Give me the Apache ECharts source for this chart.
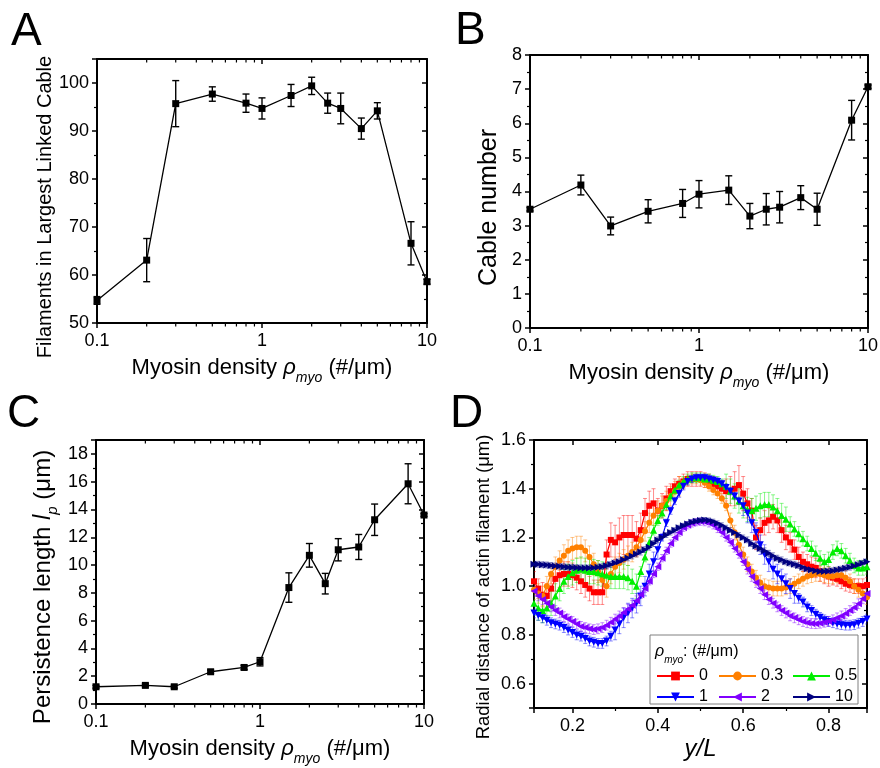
<!DOCTYPE html>
<html><head><meta charset="utf-8">
<script src="https://cdn.jsdelivr.net/npm/echarts@6/dist/echarts.min.js"></script>
<style>html,body{margin:0;padding:0;background:#fff}#c{width:880px;height:768px}</style>
</head><body><div id="c"></div>
<script>
const FONT = '"Liberation Sans", Arial, Helvetica, sans-serif';

// ---------- Panels A-C data ----------
const rhoMyo = [0.1, 0.2, 0.3, 0.5, 0.8, 1, 1.5, 2, 2.5, 3, 4, 5, 8, 10];
const filamentsLargest    = [54.7, 63.1, 95.7, 97.7, 95.8, 94.7, 97.4, 99.4, 95.8, 94.7, 90.5, 94.2, 66.6, 58.6];
const filamentsLargestErr = [0.8, 4.5, 4.8, 1.5, 1.9, 2.2, 2.3, 1.8, 2.1, 3.2, 2.2, 1.7, 4.5, 0.5];
const cableNumber    = [3.48, 4.19, 2.99, 3.42, 3.65, 3.92, 4.04, 3.28, 3.48, 3.54, 3.82, 3.48, 6.09, 7.07];
const cableNumberErr = [0.05, 0.29, 0.26, 0.34, 0.41, 0.40, 0.42, 0.37, 0.46, 0.46, 0.35, 0.47, 0.58, 0.05];
const persistenceLength    = [1.24, 1.34, 1.24, 2.32, 2.63, 3.04, 8.38, 10.7, 8.66, 11.1, 11.3, 13.26, 15.85, 13.6];
const persistenceLengthErr = [0.1, 0.1, 0.1, 0.12, 0.15, 0.3, 1.06, 0.85, 0.74, 0.8, 0.9, 1.13, 1.44, 0.1];
const logMinorTicks = [0.2, 0.3, 0.4, 0.5, 0.6, 0.7, 0.8, 0.9, 2, 3, 4, 5, 6, 7, 8, 9];

// ---------- Panel D data ----------
const yOverL = [
 0.11,0.12,0.13,0.14,0.15,0.16,0.17,0.18,0.19,0.20,
 0.21,0.22,0.23,0.24,0.25,0.26,0.27,0.28,0.29,0.30,
 0.31,0.32,0.33,0.34,0.35,0.36,0.37,0.38,0.39,0.40,
 0.41,0.42,0.43,0.44,0.45,0.46,0.47,0.48,0.49,0.50,
 0.51,0.52,0.53,0.54,0.55,0.56,0.57,0.58,0.59,0.60,
 0.61,0.62,0.63,0.64,0.65,0.66,0.67,0.68,0.69,0.70,
 0.71,0.72,0.73,0.74,0.75,0.76,0.77,0.78,0.79,0.80,
 0.81,0.82,0.83,0.84,0.85,0.86,0.87,0.88,0.89];
const radial_rho0 = [
 1.02,0.99,0.965,0.96,0.99,1.03,1.045,1.05,1.05,1.045,
 1.035,1.02,1.005,0.99,0.975,0.975,0.975,1.13,1.19,1.18,
 1.2,1.21,1.21,1.21,1.195,1.23,1.3,1.33,1.34,1.31,
 1.33,1.36,1.39,1.41,1.42,1.43,1.44,1.44,1.44,1.44,
 1.435,1.43,1.42,1.41,1.4,1.39,1.39,1.4,1.415,1.38,
 1.34,1.31,1.2,1.23,1.26,1.27,1.285,1.27,1.23,1.2,
 1.18,1.15,1.12,1.1,1.09,1.08,1.075,1.06,1.05,1.04,
 1.035,1.03,1.02,1.01,1.005,1.0,1.0,1.0,1.005];
const radial_rho0_err = [
 0.04,0.04,0.05,0.05,0.05,0.05,0.05,0.05,0.05,0.05,
 0.05,0.05,0.05,0.05,0.05,0.05,0.05,0.06,0.07,0.07,
 0.08,0.08,0.08,0.08,0.07,0.07,0.06,0.06,0.06,0.05,
 0.05,0.05,0.03,0.03,0.03,0.03,0.03,0.03,0.03,0.03,
 0.03,0.03,0.03,0.03,0.03,0.05,0.06,0.07,0.08,0.07,
 0.06,0.05,0.05,0.05,0.05,0.05,0.05,0.05,0.05,0.05,
 0.04,0.04,0.04,0.04,0.04,0.04,0.04,0.04,0.04,0.04,
 0.03,0.03,0.03,0.03,0.03,0.03,0.03,0.03,0.03];
const radial_rho03 = [
 0.985,0.97,0.96,1.0,1.05,1.08,1.105,1.125,1.145,1.155,
 1.16,1.16,1.145,1.12,1.09,1.06,1.025,1.0,1.05,1.08,
 1.095,1.11,1.125,1.14,1.16,1.19,1.225,1.26,1.29,1.31,
 1.33,1.35,1.37,1.39,1.41,1.425,1.435,1.44,1.44,1.435,
 1.425,1.41,1.395,1.38,1.36,1.33,1.27,1.22,1.17,1.13,
 1.09,1.06,1.035,1.015,1.0,0.995,0.99,0.99,0.99,0.995,
 1.0,1.01,1.02,1.03,1.04,1.045,1.05,1.05,1.045,1.04,
 1.04,1.045,1.045,1.035,1.02,1.0,0.985,0.97,0.955];
const radial_rho03_err = [
 0.04,0.04,0.04,0.04,0.04,0.04,0.04,0.045,0.045,0.045,
 0.045,0.045,0.045,0.045,0.045,0.045,0.045,0.045,0.04,0.04,
 0.04,0.04,0.04,0.04,0.04,0.04,0.04,0.04,0.04,0.04,
 0.04,0.04,0.04,0.04,0.04,0.02,0.02,0.02,0.02,0.02,
 0.02,0.02,0.02,0.02,0.02,0.02,0.03,0.03,0.03,0.03,
 0.03,0.03,0.03,0.03,0.03,0.03,0.03,0.03,0.03,0.03,
 0.03,0.03,0.03,0.03,0.03,0.03,0.03,0.03,0.03,0.03,
 0.03,0.03,0.03,0.03,0.03,0.03,0.03,0.03,0.03];
const radial_rho05 = [
 0.93,0.91,0.9,0.91,0.93,0.96,0.99,1.02,1.04,1.055,
 1.065,1.07,1.065,1.06,1.06,1.055,1.05,1.045,1.04,1.04,
 1.04,1.04,1.035,1.02,1.0,1.06,1.12,1.18,1.23,1.27,
 1.3,1.335,1.37,1.395,1.415,1.43,1.44,1.445,1.445,1.445,
 1.44,1.44,1.435,1.43,1.42,1.41,1.39,1.37,1.35,1.33,
 1.315,1.31,1.32,1.33,1.335,1.335,1.325,1.31,1.29,1.275,
 1.255,1.235,1.215,1.195,1.175,1.155,1.135,1.115,1.1,1.11,
 1.14,1.155,1.145,1.125,1.105,1.085,1.075,1.075,1.08];
const radial_rho05_err = [
 0.05,0.05,0.05,0.05,0.05,0.05,0.05,0.05,0.05,0.05,
 0.05,0.05,0.05,0.05,0.05,0.05,0.05,0.05,0.05,0.05,
 0.05,0.05,0.05,0.05,0.05,0.02,0.02,0.02,0.02,0.02,
 0.02,0.02,0.02,0.02,0.02,0.02,0.02,0.02,0.02,0.02,
 0.02,0.02,0.02,0.02,0.02,0.05,0.05,0.05,0.05,0.05,
 0.05,0.05,0.05,0.05,0.05,0.05,0.05,0.05,0.05,0.05,
 0.03,0.03,0.03,0.03,0.03,0.03,0.03,0.03,0.03,0.03,
 0.03,0.03,0.03,0.03,0.03,0.03,0.03,0.03,0.03];
const radial_rho1 = [
 0.89,0.88,0.87,0.86,0.85,0.845,0.84,0.83,0.82,0.81,
 0.8,0.795,0.785,0.775,0.77,0.765,0.765,0.775,0.795,0.82,
 0.845,0.87,0.89,0.91,0.93,0.96,1.0,1.05,1.1,1.15,
 1.2,1.26,1.31,1.35,1.38,1.41,1.43,1.44,1.445,1.445,
 1.445,1.44,1.435,1.43,1.42,1.405,1.39,1.37,1.35,1.33,
 1.3,1.26,1.22,1.17,1.13,1.1,1.07,1.05,1.03,1.01,
 0.99,0.97,0.95,0.935,0.915,0.9,0.885,0.872,0.862,0.855,
 0.85,0.845,0.842,0.84,0.84,0.842,0.848,0.855,0.865];
const radial_rho1_err = [
 0.02,0.02,0.02,0.02,0.02,0.02,0.02,0.02,0.02,0.02,
 0.02,0.02,0.02,0.02,0.02,0.02,0.02,0.02,0.02,0.04,
 0.04,0.04,0.04,0.04,0.04,0.04,0.04,0.04,0.04,0.04,
 0.015,0.015,0.015,0.015,0.015,0.015,0.015,0.015,0.015,0.015,
 0.015,0.015,0.015,0.015,0.015,0.015,0.015,0.015,0.015,0.04,
 0.04,0.04,0.04,0.04,0.04,0.04,0.04,0.04,0.04,0.04,
 0.04,0.04,0.02,0.02,0.02,0.02,0.02,0.02,0.02,0.02,
 0.02,0.02,0.02,0.02,0.02,0.02,0.02,0.02,0.02];
const radial_rho2 = [
 0.98,0.96,0.945,0.93,0.915,0.9,0.89,0.875,0.865,0.855,
 0.845,0.835,0.83,0.825,0.822,0.825,0.83,0.84,0.852,0.865,
 0.878,0.892,0.906,0.922,0.94,0.965,0.99,1.02,1.05,1.08,
 1.115,1.145,1.175,1.2,1.22,1.24,1.25,1.258,1.263,1.265,
 1.263,1.258,1.25,1.235,1.22,1.2,1.18,1.155,1.13,1.1,
 1.07,1.04,1.015,0.99,0.965,0.945,0.93,0.915,0.9,0.89,
 0.878,0.87,0.862,0.855,0.85,0.847,0.846,0.848,0.852,0.856,
 0.862,0.87,0.878,0.888,0.9,0.912,0.928,0.948,0.97];
const radial_rho2_err = [
 0.02,0.02,0.02,0.02,0.02,0.02,0.02,0.02,0.02,0.02,
 0.02,0.02,0.02,0.02,0.02,0.02,0.02,0.02,0.02,0.02,
 0.02,0.02,0.02,0.02,0.02,0.015,0.015,0.015,0.015,0.015,
 0.015,0.015,0.015,0.015,0.015,0.015,0.015,0.015,0.015,0.015,
 0.015,0.015,0.015,0.015,0.015,0.015,0.015,0.015,0.015,0.015,
 0.02,0.02,0.02,0.02,0.02,0.02,0.02,0.02,0.02,0.02,
 0.02,0.02,0.02,0.02,0.02,0.02,0.02,0.02,0.02,0.02,
 0.02,0.02,0.02,0.02,0.02,0.02,0.02,0.02,0.02];
const radial_rho10 = [
 1.09,1.09,1.088,1.087,1.085,1.083,1.082,1.08,1.078,1.077,
 1.076,1.075,1.075,1.075,1.076,1.078,1.08,1.084,1.089,1.095,
 1.1,1.108,1.116,1.124,1.132,1.14,1.15,1.16,1.175,1.19,
 1.2,1.21,1.22,1.23,1.24,1.248,1.255,1.262,1.266,1.27,
 1.272,1.27,1.265,1.258,1.25,1.24,1.23,1.22,1.21,1.2,
 1.19,1.175,1.165,1.155,1.145,1.135,1.125,1.115,1.108,1.1,
 1.095,1.09,1.085,1.078,1.072,1.067,1.063,1.06,1.06,1.061,
 1.063,1.066,1.07,1.074,1.078,1.083,1.088,1.094,1.1];
const radial_rho10_err = [
 0.012,0.012,0.012,0.012,0.012,0.012,0.012,0.012,0.012,0.012,
 0.012,0.012,0.012,0.012,0.012,0.012,0.012,0.012,0.012,0.012,
 0.012,0.012,0.012,0.012,0.012,0.012,0.012,0.012,0.012,0.012,
 0.01,0.01,0.01,0.01,0.01,0.01,0.01,0.01,0.01,0.01,
 0.01,0.01,0.01,0.01,0.01,0.01,0.01,0.01,0.01,0.01,
 0.012,0.012,0.012,0.012,0.012,0.012,0.012,0.012,0.012,0.012,
 0.012,0.012,0.012,0.012,0.012,0.012,0.012,0.012,0.012,0.012,
 0.012,0.012,0.012,0.012,0.012,0.012,0.012,0.012,0.012];
const rhoLegend = ['0', '0.3', '0.5', '1', '2', '10'];

// ---------- styling ----------
const dSeriesDefs = [
  {name: rhoLegend[0], y: radial_rho0,  e: radial_rho0_err,  color: '#ff0000', symbol: 'rect',     size: 6, rot: 0},
  {name: rhoLegend[1], y: radial_rho03, e: radial_rho03_err, color: '#ff8000', symbol: 'circle',   size: 6, rot: 0},
  {name: rhoLegend[2], y: radial_rho05, e: radial_rho05_err, color: '#00ee00', symbol: 'triangle', size: 7, rot: 0},
  {name: rhoLegend[3], y: radial_rho1,  e: radial_rho1_err,  color: '#0000ff', symbol: 'triangle', size: 7, rot: 180},
  {name: rhoLegend[4], y: radial_rho2,  e: radial_rho2_err,  color: '#8000ff', symbol: 'triangle', size: 7, rot: 90},
  {name: rhoLegend[5], y: radial_rho10, e: radial_rho10_err, color: '#000080', symbol: 'triangle', size: 7, rot: -90}
];

const AX_LINE = {show: true, onZero: false, lineStyle: {color: '#000', width: 2}};
const TICK_STYLE = {color: '#000', width: 1.5};
const LABEL = {color: '#000', fontSize: 18, fontFamily: FONT};

function richTitle(size, lh, pad) {
  const o = {
    color: '#000', fontFamily: FONT, fontSize: size, lineHeight: lh,
    rich: {
      t: {fontSize: size, fontFamily: FONT, color: '#000', lineHeight: lh, verticalAlign: 'middle'},
      r: {fontSize: size, fontFamily: FONT, color: '#000', fontStyle: 'italic', lineHeight: lh, verticalAlign: 'middle'},
      s: {fontSize: Math.round(size * 0.64), fontFamily: FONT, color: '#000', fontStyle: 'italic', lineHeight: lh, verticalAlign: 'bottom'}
    }
  };
  if (pad) o.padding = pad;
  return o;
}
const MYO_TITLE = '{t|Myosin density }{r|ρ}{s|myo}{t| (#/μm)}';

function xPair(g, type, min, max, nameGap, extraLabel, name, nameStyle) {
  const base = {type: type, gridIndex: g, min: min, max: max, splitLine: {show: false}, axisLine: AX_LINE};
  if (type === 'log') base.logBase = 10;
  const minor = type === 'log' ? {show: false} : {show: true, splitNumber: 2, length: 3, lineStyle: {color: '#000', width: 1.2}};
  const bottom = Object.assign({}, base, {
    position: 'bottom',
    axisTick: {show: true, inside: false, length: 5, lineStyle: TICK_STYLE},
    minorTick: minor,
    axisLabel: Object.assign({show: true, margin: 9}, LABEL, extraLabel || {}),
    name: name, nameLocation: 'middle', nameGap: nameGap, nameTextStyle: nameStyle
  });
  const top = Object.assign({}, base, {
    position: 'top',
    axisTick: {show: true, inside: true, length: 5, lineStyle: TICK_STYLE},
    minorTick: minor,
    axisLabel: {show: false}
  });
  return [bottom, top];
}
function yPair(g, min, max, interval, nameGap, extraLabel, name, nameStyle) {
  const base = {type: 'value', gridIndex: g, min: min, max: max, splitLine: {show: false}, axisLine: AX_LINE};
  if (interval != null) base.interval = interval;
  const minor = {show: true, splitNumber: 2, length: 3, lineStyle: {color: '#000', width: 1.2}};
  const left = Object.assign({}, base, {
    position: 'left',
    axisTick: {show: true, inside: false, length: 5, lineStyle: TICK_STYLE},
    minorTick: minor,
    axisLabel: Object.assign({show: true, margin: 8}, LABEL, extraLabel || {}),
    name: name, nameLocation: 'middle', nameGap: nameGap, nameTextStyle: nameStyle
  });
  const right = Object.assign({}, base, {
    position: 'right',
    axisTick: {show: true, inside: true, length: 5, lineStyle: TICK_STYLE},
    minorTick: minor,
    axisLabel: {show: false}
  });
  return [left, right];
}

function errBar(cap, color, width, opacity) {
  return function (params, api) {
    const x = api.value(0);
    const lo = api.coord([x, api.value(1)]);
    const hi = api.coord([x, api.value(2)]);
    const st = {stroke: color, lineWidth: width, opacity: opacity};
    return {type: 'group', children: [
      {type: 'line', shape: {x1: lo[0], y1: lo[1], x2: hi[0], y2: hi[1]}, style: st},
      {type: 'line', shape: {x1: lo[0] - cap, y1: lo[1], x2: lo[0] + cap, y2: lo[1]}, style: st},
      {type: 'line', shape: {x1: hi[0] - cap, y1: hi[1], x2: hi[0] + cap, y2: hi[1]}, style: st}
    ]};
  };
}
function minorLogTick(params, api) {
  const cs = params.coordSys;
  const x = api.coord([api.value(0), api.value(1)])[0];
  const b = cs.y + cs.height, t = cs.y;
  const st = {stroke: '#000', lineWidth: 1.2};
  return {type: 'group', children: [
    {type: 'line', shape: {x1: x, y1: b, x2: x, y2: b + 3.5}, style: st},
    {type: 'line', shape: {x1: x, y1: t, x2: x, y2: t + 3.5}, style: st}
  ]};
}

const xAxes = [].concat(
  xPair(0, 'log', 0.1, 10, 18, null, MYO_TITLE, richTitle(22, 34)),
  xPair(1, 'log', 0.1, 10, 19, null, MYO_TITLE, richTitle(22, 34)),
  xPair(2, 'log', 0.1, 10, 20, null, MYO_TITLE, richTitle(22, 34)),
  xPair(3, 'value', 0.11, 0.89, 29, {showMinLabel: false, showMaxLabel: false}, 'y/L',
        {color: '#000', fontFamily: FONT, fontSize: 24, fontStyle: 'italic'})
);
const yAxes = [].concat(
  yPair(0, 50, 105, 10, 39, {showMaxLabel: false}, 'Filaments in Largest Linked Cable',
        {color: '#000', fontFamily: FONT, fontSize: 20, padding: [0, 32, 0, 0]}),
  yPair(1, 0, 8, 1, 28, null, 'Cable number',
        {color: '#000', fontFamily: FONT, fontSize: 25, padding: [0, 32, 0, 0]}),
  yPair(2, 0, 19, 2, 36, {showMaxLabel: false}, '{t|Persistence length }{r|l}{s|p}{t| (μm)}',
        richTitle(24, 34, [0, 30, 0, 0])),
  yPair(3, 0.5, 1.6, null, 41, {showMinLabel: false, formatter: function (v) { return v.toFixed(1); }},
        'Radial distance of actin filament (μm)', {color: '#000', fontFamily: FONT, fontSize: 18.5, padding: [0, 26, 0, 0]})
);
yAxes[6].splitNumber = 5; yAxes[7].splitNumber = 5;

const series = [];
const panelABC = [
  {g: 0, y: filamentsLargest, e: filamentsLargestErr, ymin: 50},
  {g: 1, y: cableNumber, e: cableNumberErr, ymin: 0},
  {g: 2, y: persistenceLength, e: persistenceLengthErr, ymin: 0}
];
panelABC.forEach(function (p) {
  const xi = p.g * 2, yi = p.g * 2;
  series.push({
    type: 'custom', name: 'minor' + p.g, xAxisIndex: xi, yAxisIndex: yi, silent: true, clip: false, z: 5,
    renderItem: minorLogTick, data: logMinorTicks.map(function (v) { return [v, p.ymin]; })
  });
  series.push({
    type: 'custom', name: 'err' + p.g, xAxisIndex: xi, yAxisIndex: yi, silent: true, z: 3,
    renderItem: errBar(3.5, '#000', 1.4, 1),
    encode: {x: 0, y: [1, 2]},
    data: rhoMyo.map(function (x, i) { return [x, p.y[i] - p.e[i], p.y[i] + p.e[i]]; })
  });
  series.push({
    type: 'line', name: 'panel' + p.g, xAxisIndex: xi, yAxisIndex: yi, z: 4,
    symbol: 'rect', symbolSize: 7, itemStyle: {color: '#000'},
    lineStyle: {color: '#000', width: 1.3},
    data: rhoMyo.map(function (x, i) { return [x, p.y[i]]; })
  });
});
dSeriesDefs.forEach(function (d, k) {
  series.push({
    type: 'custom', name: 'errD' + k, xAxisIndex: 6, yAxisIndex: 6, silent: true, clip: true, z: 2 + k * 0.1,
    renderItem: errBar(2, d.color, 1, 0.45),
    encode: {x: 0, y: [1, 2]},
    data: yOverL.map(function (x, i) { return [x, d.y[i] - d.e[i], d.y[i] + d.e[i]]; })
  });
});
dSeriesDefs.forEach(function (d, k) {
  series.push({
    type: 'line', name: d.name, xAxisIndex: 6, yAxisIndex: 6, z: 3 + k * 0.1,
    symbol: d.symbol, symbolSize: d.size, symbolRotate: d.rot,
    itemStyle: {color: d.color}, lineStyle: {color: d.color, width: 1.2},
    data: yOverL.map(function (x, i) { return [x, d.y[i]]; })
  });
});

function legendCol(names, left) {
  return {
    data: names, orient: 'vertical', left: left, top: 668, itemWidth: 37, itemHeight: 11, itemGap: 5,
    selectedMode: false, z: 20, padding: 0,
    textStyle: {color: '#000', fontSize: 16, fontFamily: FONT}
  };
}

function letter(t, l, tp) {
  return {type: 'text', left: l, top: tp, z: 20,
    style: {text: t, fontSize: 46, fontFamily: FONT, fill: '#000'}};
}

const option = {
  animation: false,
  backgroundColor: '#fff',
  grid: [
    {left: 97, top: 59, width: 330, height: 264, containLabel: false, outerBoundsMode: 'none'},
    {left: 530, top: 55, width: 338, height: 273, containLabel: false, outerBoundsMode: 'none'},
    {left: 96, top: 440, width: 328, height: 264, containLabel: false, outerBoundsMode: 'none'},
    {left: 534, top: 440, width: 333, height: 268, containLabel: false, outerBoundsMode: 'none'}
  ],
  xAxis: xAxes,
  yAxis: yAxes,
  legend: [legendCol([rhoLegend[0], rhoLegend[3]], 656), legendCol([rhoLegend[1], rhoLegend[4]], 718), legendCol([rhoLegend[2], rhoLegend[5]], 792)],
  graphic: [
    letter('A', 11, 9), letter('B', 455, 8), letter('C', 7, 391), letter('D', 450, 391),
    {type: 'rect', z: 15, shape: {x: 650, y: 635, width: 208, height: 69},
     style: {fill: '#fff', stroke: '#808080', lineWidth: 1}},
    {type: 'text', z: 20, x: 655, y: 652,
     style: {text: '{r|ρ}{s|myo}{t|: (#/μm)}', verticalAlign: 'middle', align: 'left',
       rich: {
         t: {fontSize: 16, fontFamily: FONT, fill: '#000', lineHeight: 26, verticalAlign: 'middle'},
         r: {fontSize: 16, fontFamily: FONT, fill: '#000', fontStyle: 'italic', lineHeight: 26, verticalAlign: 'middle'},
         s: {fontSize: 10, fontFamily: FONT, fill: '#000', fontStyle: 'italic', lineHeight: 26, verticalAlign: 'bottom'}
       }}}
  ],
  series: series
};

const chart = echarts.init(document.getElementById('c'), null, {renderer: 'canvas'});
chart.setOption(option);
</script></body></html>
